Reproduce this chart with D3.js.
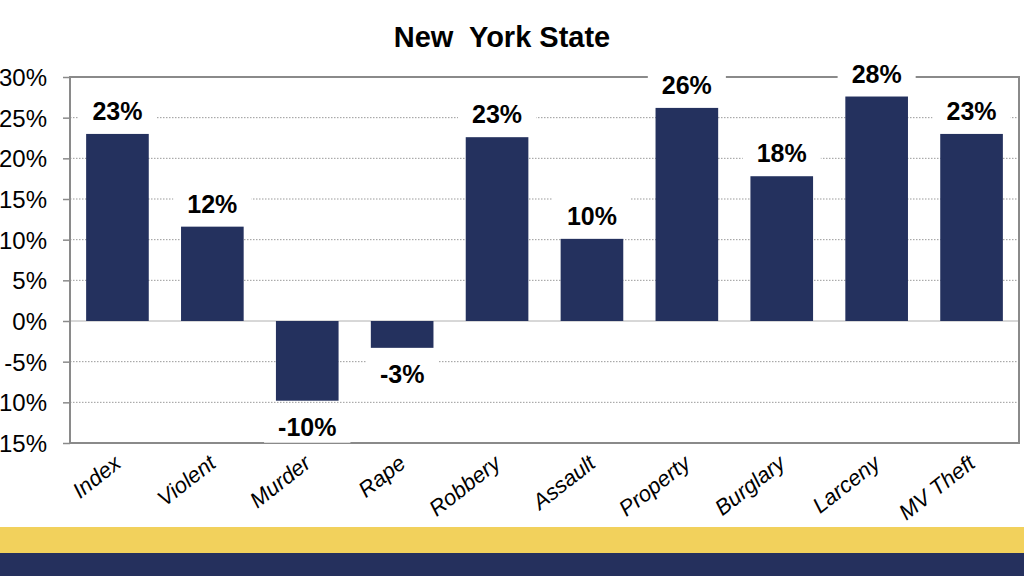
<!DOCTYPE html>
<html><head><meta charset="utf-8">
<script src="https://cdn.jsdelivr.net/npm/d3@7"></script>
<style>html,body{margin:0;padding:0;background:#fff;overflow:hidden}</style>
</head><body>
<svg id="c" width="1024" height="576"></svg>
<script>
const categories = ["Index","Violent","Murder","Rape","Robbery","Assault","Property","Burglary","Larceny","MV Theft"];
const values = [23.0, 11.6, -9.8, -3.3, 22.6, 10.1, 26.2, 17.8, 27.6, 23.0];
const valueLabels = ["23%","12%","-10%","-3%","23%","10%","26%","18%","28%","23%"];
const yTicks = [-15,-10,-5,0,5,10,15,20,25,30];
const title = "New  York State";

const svg = d3.select("#c");
const font = "'Liberation Sans', Arial, sans-serif";
const x = d3.scaleBand().domain(categories).range([70,1019]).paddingInner(0.34).paddingOuter(0.17);
const y = d3.scaleLinear().domain([-15,30]).range([443,77]);

// bottom bands
svg.append("rect").attr("x",0).attr("y",527).attr("width",1024).attr("height",26).attr("fill","#F2D15C");
svg.append("rect").attr("x",0).attr("y",553).attr("width",1024).attr("height",23).attr("fill","#25305D");

// title
svg.append("text").attr("x",502).attr("y",47).attr("text-anchor","middle").style("white-space","pre")
  .attr("font-family",font).attr("font-weight","bold").attr("font-size",29).attr("fill","#000").text(title);

// gridlines
const g = svg.append("g");
g.selectAll("line.grid").data(yTicks.filter(t=>t!==0 && t!==30 && t!==-15)).enter().append("line")
  .attr("x1",70).attr("x2",1019).attr("y1",d=>y(d)).attr("y2",d=>y(d))
  .attr("stroke","#9a9a9a").attr("stroke-width",1).attr("stroke-dasharray","1.5,1.5");
g.append("line").attr("x1",70).attr("x2",1019).attr("y1",y(0)).attr("y2",y(0)).attr("stroke","#b0b0b0").attr("stroke-width",1);

// bars
svg.selectAll("rect.bar").data(values).enter().append("rect")
  .attr("x",(d,i)=>x(categories[i])).attr("width",x.bandwidth())
  .attr("y",d=>y(Math.max(0,d))).attr("height",d=>Math.abs(y(d)-y(0)))
  .attr("fill","#24315E");

// frame
const fr = svg.append("g").attr("fill","none").attr("stroke","#8a8a8a").attr("stroke-width",2);
fr.append("rect").attr("x",70).attr("y",y(30)).attr("width",1019-70).attr("height",y(-15)-y(30));

// y axis ticks
const yAxis = d3.axisLeft(y).tickValues(yTicks).tickSize(7).tickFormat(d=>d+"%");
const ya = svg.append("g").attr("transform","translate(70,0)").call(yAxis);
ya.select(".domain").remove();
ya.selectAll(".tick line").attr("stroke","#8a8a8a").attr("stroke-width",1.5);
ya.selectAll(".tick text").attr("x",-23).attr("font-family",font).attr("font-size",24).attr("fill","#000").attr("dy","0.36em");

// value labels with white boxes
const lab = svg.append("g");
values.forEach((v,i)=>{
  const cx = x(categories[i]) + x.bandwidth()/2;
  const by = v>=0 ? y(v) - 14 : y(v) + 35;
  const t = lab.append("text").attr("x",cx).attr("y",by).attr("text-anchor","middle")
    .attr("font-family",font).attr("font-weight","bold").attr("font-size",25).attr("fill","#000").text(valueLabels[i]);
  const bb = t.node().getBBox();
  lab.insert("rect","text").attr("x",bb.x-14).attr("y",bb.y-4).attr("width",bb.width+28).attr("height",bb.height+6).attr("fill","#fff");
});

// x labels
const xl = svg.append("g");
categories.forEach((c,i)=>{
  const cx = x(c) + x.bandwidth()/2 + 5;
  xl.append("text").attr("transform",`translate(${cx},466) rotate(-38)`).attr("text-anchor","end")
    .attr("font-family",font).attr("font-style","italic").attr("font-size",22).attr("fill","#000").text(c);
});
</script>
</body></html>
